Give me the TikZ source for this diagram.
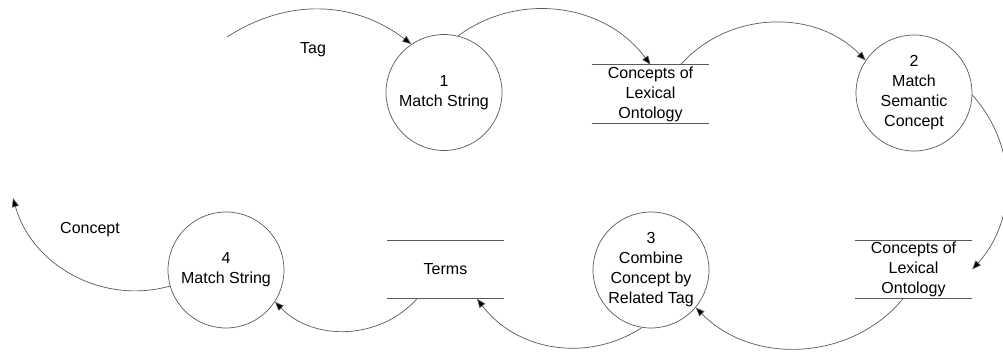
\documentclass[tikz,border=0pt]{standalone}
\usepackage{fontspec}
\setmainfont{Liberation Sans}
\usetikzlibrary{arrows.meta}
\tikzset{
  line/.style={draw=black!65, line width=0.7pt},
  process/.style={circle, line, inner sep=0pt, minimum size=116pt, align=center,
                  font=\fontsize{16}{20}\selectfont},
  store/.style={rectangle, inner sep=0pt, minimum width=117pt, minimum height=58pt,
                align=center, font=\fontsize{16}{20}\selectfont},
  flow/.style={line, -{Triangle[length=9pt,width=7pt,fill=black]}},
  lbl/.style={font=\fontsize{16}{20}\selectfont}
}
\begin{document}
\begin{tikzpicture}[x=1pt,y=-1pt]
\useasboundingbox (0,0) rectangle (1003,352);
\clip (0,0) rectangle (1003,352);

% processes
\node[process] (c1) at (444,92.5) {1\\Match String};
\node[process] (c2) at (914,93) {2\\Match\\Semantic\\Concept};
\node[process] (c3) at (651,270) {3\\Combine\\Concept by\\Related Tag};
\node[process] (c4) at (226,270) {4\\Match String};

% data stores
\node[store] (s1) at (650.5,94) {Concepts of\\Lexical\\Ontology};
\node[store] (s2) at (913.5,269.5) {Concepts of\\Lexical\\Ontology};
\node[store] (s3) at (445.5,269.5) {Terms};
\foreach \s in {s1,s2,s3}{
  \draw[line] (\s.north west) -- (\s.north east);
  \draw[line] (\s.south west) -- (\s.south east);
}

% free ends
\coordinate (tagin) at (227,37);
\coordinate (conceptout) at (13,198);

% data flows
\draw[flow] (tagin) to[bend left=35] (c1.124);
\draw[flow] (c1.76) to[bend left=45] (s1.north);
\draw[flow] ([xshift=30pt]s1.north) to[bend left=47] (c2.146);
\draw[flow] (c2.-2) to[bend left=42] (s2.east);
\draw[flow] ([xshift=-10.5pt]s2.south) to[bend left=48] (c3.-40);
\draw[flow] (c3.261) to[bend left=43] ([xshift=31.5pt]s3.south);
\draw[flow] ([xshift=-28.5pt]s3.south) to[bend left=47] (c4.-33);
\draw[flow] (c4.196) to[bend left=45] (conceptout);

% flow labels
\node[lbl] (tag) at (313,50) {Tag};
\node[lbl] (concept) at (90,230) {Concept};
\end{tikzpicture}
\end{document}
